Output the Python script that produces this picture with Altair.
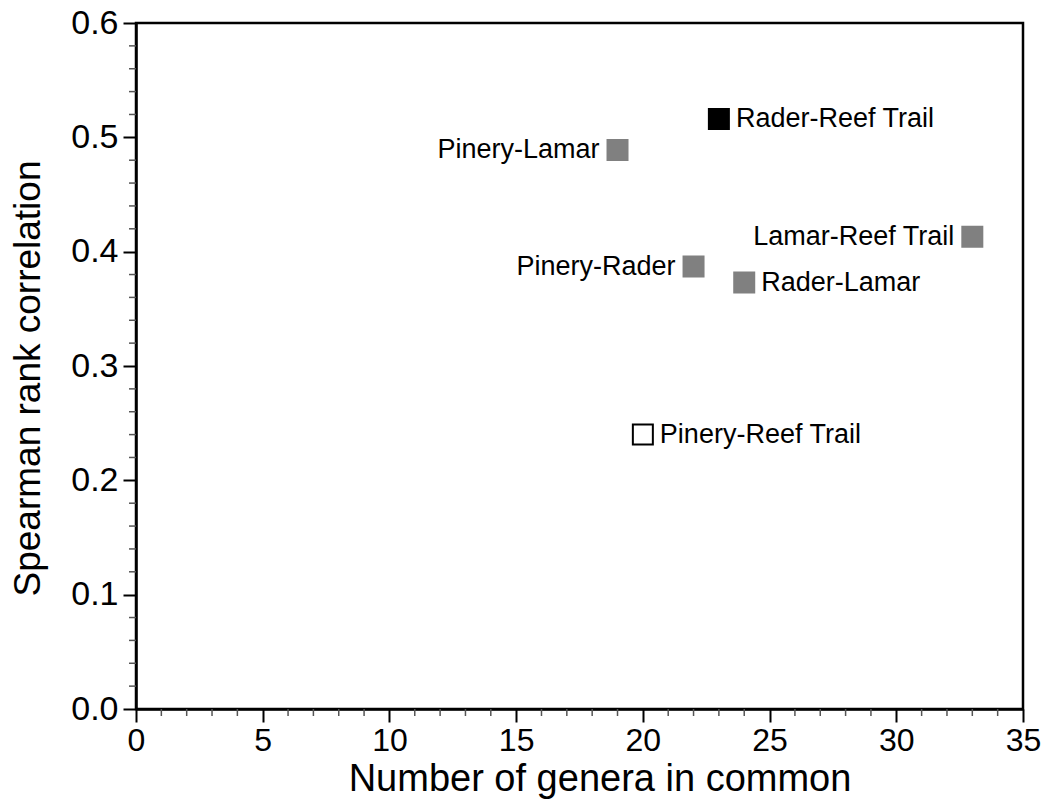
import altair as alt
import pandas as pd

# Pairwise comparisons of the four faunas
pairs = ["Rader-Reef Trail", "Pinery-Lamar", "Lamar-Reef Trail",
         "Pinery-Rader", "Rader-Lamar", "Pinery-Reef Trail"]
genera_in_common = [23, 19, 33, 22, 24, 20]
spearman_rho = [0.516, 0.489, 0.413, 0.387, 0.373, 0.240]
kind = ["highest", "other", "other", "other", "other", "lowest"]

x_major = [0, 5, 10, 15, 20, 25, 30, 35]
x_minor = [v for v in range(0, 36) if v % 5 != 0]
y_major = [0.0, 0.1, 0.2, 0.3, 0.4, 0.5, 0.6]
y_minor = [round(i * 0.02, 2) for i in range(31) if i % 5 != 0]

labels_on_left = {"Pinery-Lamar", "Lamar-Reef Trail", "Pinery-Rader"}

df = pd.DataFrame({
    "pair": pairs,
    "genera": genera_in_common,
    "rho": spearman_rho,
    "kind": kind,
})
df["side"] = ["left" if p in labels_on_left else "right" for p in pairs]

FONT = "Liberation Sans"
W, H = 887, 686

xscale = alt.Scale(domain=[0, 35], nice=False, zero=True)
yscale = alt.Scale(domain=[0, 0.6], nice=False, zero=True)

x_enc = alt.X(
    "genera:Q", scale=xscale,
    axis=alt.Axis(
        title="Number of genera in common", values=x_major, format="d",
        grid=False, tickSize=13, tickWidth=2, tickColor="black",
        domainColor="black", domainWidth=2.5, labelFlush=False,
        labelFont=FONT, labelFontSize=32, labelColor="black", labelPadding=3,
        titleFont=FONT, titleFontSize=38, titleFontWeight="normal",
        titleColor="black", titlePadding=4, titleX=W / 2 + 20,
    ),
)
y_enc = alt.Y(
    "rho:Q", scale=yscale,
    axis=alt.Axis(
        title="Spearman rank correlation", values=y_major, format=".1f",
        grid=False, tickSize=13, tickWidth=2, tickColor="black",
        domainColor="black", domainWidth=2.5, labelFlush=False,
        labelFont=FONT, labelFontSize=34, labelColor="black", labelPadding=5,
        titleFont=FONT, titleFontSize=37, titleFontWeight="normal",
        titleColor="black", titlePadding=23, titleY=H / 2 + 12,
    ),
)

base = alt.Chart(df)

points = base.mark_point(shape="square", filled=True, size=400, opacity=1).encode(
    x=x_enc,
    y=y_enc,
    fill=alt.Fill(
        "kind:N",
        scale=alt.Scale(domain=["highest", "other", "lowest"],
                        range=["black", "#808080", "white"]),
        legend=None,
    ),
    stroke=alt.Stroke(
        "kind:N",
        scale=alt.Scale(domain=["highest", "other", "lowest"],
                        range=["black", "#808080", "black"]),
        legend=None,
    ),
    strokeWidth=alt.value(2),
)

text_style = dict(font=FONT, fontSize=27, color="black", baseline="middle")

labels_right = base.transform_filter(alt.datum.side == "right").mark_text(
    align="left", dx=17, **text_style
).encode(x="genera:Q", y="rho:Q", text="pair:N")

labels_left = base.transform_filter(alt.datum.side == "left").mark_text(
    align="right", dx=-18, **text_style
).encode(x="genera:Q", y="rho:Q", text="pair:N")

# Minor tick marks drawn just outside the plot frame
minor_x = alt.Chart(pd.DataFrame({"v": x_minor})).mark_rule(
    color="#555555", strokeWidth=1.5
).encode(
    x=alt.X("v:Q", scale=xscale),
    y=alt.value(H), y2=alt.value(H + 7),
)
minor_y = alt.Chart(pd.DataFrame({"v": y_minor})).mark_rule(
    color="#555555", strokeWidth=1.5
).encode(
    y=alt.Y("v:Q", scale=yscale),
    x=alt.value(-7), x2=alt.value(0),
)

chart = alt.layer(points, labels_right, labels_left, minor_x, minor_y).properties(
    width=W, height=H,
    autosize=alt.AutoSizeParams(type="none"),
    padding={"left": 136, "top": 23, "right": 27, "bottom": 94},
    background="white",
).configure_view(
    stroke="black", strokeWidth=2.5,
)

chart.save("out.html", embed_options={"renderer": "svg", "actions": False})
